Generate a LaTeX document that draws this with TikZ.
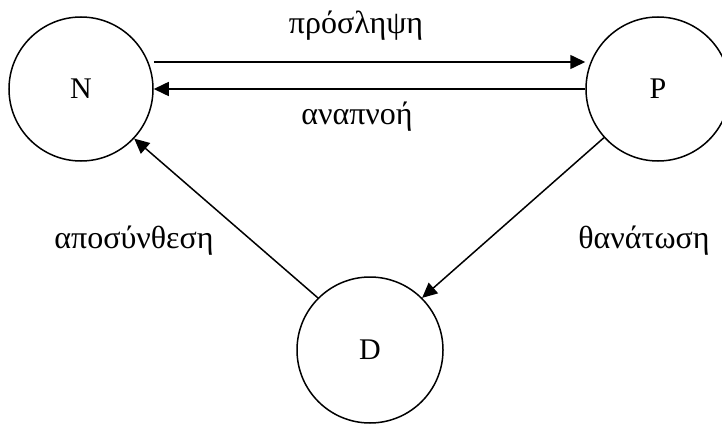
\documentclass[tikz,border=0pt]{standalone}
\usepackage{fontspec}
\setmainfont{Liberation Serif}
\usetikzlibrary{arrows.meta}
\begin{document}
\begin{tikzpicture}[x=1pt,y=1pt,
  state/.style={circle,draw,line width=1.5pt,minimum size=144pt,inner sep=0pt,font=\fontsize{30}{34}\selectfont},
  lbl/.style={font=\fontsize{32}{36}\selectfont,inner sep=0pt},
  conn/.style={line width=1.5pt,-{Triangle[length=15pt,width=14pt]}}]
\useasboundingbox (0,0) rectangle (722,424);
\node[state] (N) at (81,335) {N};
\node[state] (P) at (658,335) {P};
\node[state,minimum size=146pt] (D) at (370,74) {D};
\draw[conn] ([yshift=27pt]N.east) -- ([yshift=27pt]P.west);
\draw[conn] (P.west) -- (N.east);
\draw[conn] (D.135) -- (N.-43);
\draw[conn] (P.222) -- (D.45);
\node[lbl] (t1) at (356,398) {πρόσληψη};
\node[lbl] (t2) at (357,307) {αναπνοή};
\node[lbl] (t3) at (134,183) {αποσύνθεση};
\node[lbl] (t4) at (644,183) {θανάτωση};
\end{tikzpicture}
\end{document}
